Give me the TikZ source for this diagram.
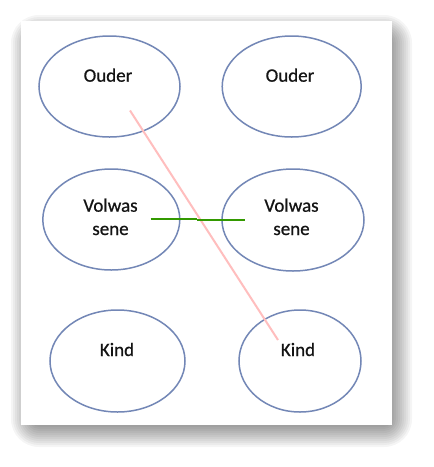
\documentclass[tikz,border=0pt]{standalone}
\usepackage{fontspec}
\setmainfont{Carlito}
\newfontfamily\lblfont{Carlito}[FakeBold=0.7]
\usetikzlibrary{shapes.geometric}
\definecolor{ovalc}{RGB}{115,135,182}
\definecolor{pinkc}{RGB}{255,190,190}
\definecolor{greenc}{RGB}{51,153,0}
\definecolor{txtc}{RGB}{20,20,20}
\begin{document}
\begin{tikzpicture}[x=1pt,y=-1pt,
  oval/.style={shape=ellipse, draw=ovalc, line width=1.5pt, inner sep=0pt},
  lbl/.style={anchor=base, inner sep=0pt, text=txtc, font=\lblfont\fontsize{19}{23.5}\selectfont},
  shadowlayer/.style={fill=black, fill opacity=0.04}]
\useasboundingbox (0,0) rectangle (434,467);
\fill[white] (0,0) rectangle (434,467);
% soft drop shadow
\foreach \e in {-14,-12,...,14}{
  \fill[shadowlayer, rounded corners={max(1,14+\e)*1pt}] ({25-\e},{29-\e}) rectangle ({398+\e},{433+\e});
}
\fill[white] (21,21) rectangle (392,425);
% ellipses
\node[oval, minimum width=141pt, minimum height=101pt] (o1) at (109.5,86.5) {};
\node[oval, minimum width=139pt, minimum height=101pt] (o2) at (291.7,86.5) {};
\node[oval, minimum width=137pt, minimum height=101pt] (v1) at (111.3,219.5) {};
\node[oval, minimum width=142pt, minimum height=102pt] (v2) at (293,220) {};
\node[oval, minimum width=135pt, minimum height=102pt] (k1) at (117.5,361) {};
\node[oval, minimum width=122pt, minimum height=102pt] (k2) at (300,361) {};
% labels
\node[lbl] (to1) at (108,81.7) {Ouder};
\node[lbl] (to2) at (290,81.7) {Ouder};
\node[lbl] (tv1a) at (110.5,211.7) {Volwas};
\node[lbl] (tv1b) at (110.5,235) {sene};
\node[lbl] (tv2a) at (291.5,211.7) {Volwas};
\node[lbl] (tv2b) at (291.5,235) {sene};
\node[lbl] (tk1) at (117,356) {Kind};
\node[lbl] (tk2) at (298,356) {Kind};
% connectors
\coordinate (pa) at (130,110.5);
\coordinate (pb) at (278,340);
\draw[pinkc, line width=2pt] (pa) -- (pb);
\coordinate (ga) at (150.5,218.8);
\coordinate (gm) at (197,218.8);
\coordinate (gn) at (197,220.2);
\coordinate (gb) at (245,220.2);
\draw[greenc, line width=2.4pt] (ga) -- (gm) (gn) -- (gb);
\end{tikzpicture}
\end{document}
